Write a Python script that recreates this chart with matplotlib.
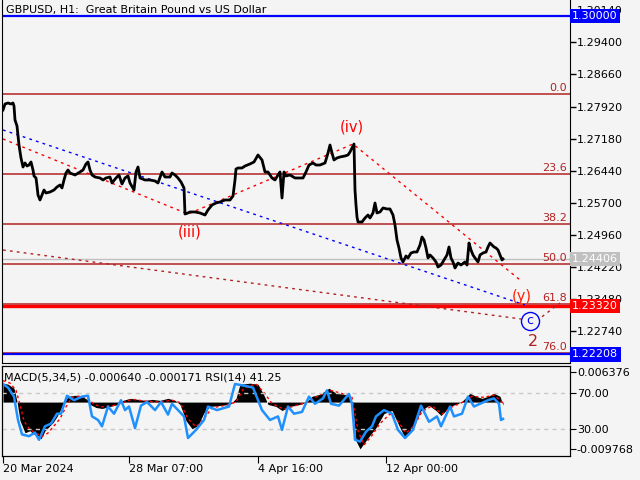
import numpy as np
import matplotlib.pyplot as plt
from matplotlib.transforms import blended_transform_factory

BG = '#f4f4f4'
FIB = '#b22222'

# price path (bar index, price)
bar = [3, 5, 8, 11, 13, 14, 15, 17, 19, 21, 23, 25, 27, 29, 31, 33, 34, 36, 37, 38,
       40, 42, 44, 46, 50, 54, 57, 60, 62, 64, 66, 68, 70, 75, 80, 83, 86, 88, 90, 92,
       95, 100, 103, 106, 110, 112, 116, 119, 122, 125, 128, 130, 134, 136, 138, 140,
       145, 150, 155, 158, 162, 165, 170, 172, 175, 178, 181, 184, 185, 188, 190, 195,
       200, 205, 208, 212, 216, 220, 225, 230, 233, 235, 236, 238, 242, 245, 250, 254,
       258, 262, 265, 268, 272, 275, 278, 280, 282, 284, 286, 290, 295, 300, 303, 306,
       309, 313, 316, 320, 325, 328, 330, 332, 334, 337, 340, 345, 348, 350, 352, 354,
       355, 356, 357, 358, 362, 365, 368, 370, 373, 375, 377, 380, 383, 387, 390, 393,
       395, 397, 399, 401, 403, 406, 408, 411, 414, 417, 420, 422, 424, 426, 428, 430,
       433, 436, 438, 441, 444, 447, 449, 451, 453, 455, 458, 461, 465, 467, 469, 471,
       473, 475, 478, 480, 483, 486, 488, 490, 492, 494, 496, 498, 500, 502, 503]
price = [1.27841, 1.27979, 1.28002, 1.27979, 1.28002, 1.27933, 1.27610, 1.27472, 1.27034,
         1.26735, 1.26527, 1.26620, 1.26550, 1.26573, 1.26643, 1.26458, 1.26320, 1.26274,
         1.26090, 1.25882, 1.25767, 1.25882, 1.25997, 1.25928, 1.25951, 1.25997, 1.26067,
         1.26113, 1.26044, 1.26228, 1.26389, 1.26458, 1.26389, 1.26343, 1.26412, 1.26458,
         1.26597, 1.26643, 1.26458, 1.26343, 1.26297, 1.26274, 1.26228, 1.26274, 1.26297,
         1.26159, 1.26274, 1.26343, 1.26136, 1.26274, 1.26320, 1.26159, 1.25997, 1.26412,
         1.26527, 1.26274, 1.26228, 1.26228, 1.26205, 1.26159, 1.26412, 1.26297, 1.26297,
         1.26389, 1.26343, 1.26274, 1.26182, 1.26044, 1.25444, 1.25468, 1.25491, 1.25491,
         1.25468, 1.25421, 1.25537, 1.25652, 1.25698, 1.25721, 1.25767, 1.25767, 1.25859,
         1.26228, 1.26481, 1.26504, 1.26504, 1.26550, 1.26597, 1.26643, 1.26804, 1.26689,
         1.26412, 1.26412, 1.26274, 1.26228, 1.26343, 1.26412, 1.25813, 1.26412, 1.26320,
         1.26343, 1.26274, 1.26274, 1.26274, 1.26412, 1.26573, 1.26620, 1.26573, 1.26573,
         1.26620, 1.26850, 1.27034, 1.26850, 1.26689, 1.26735, 1.26758, 1.26781, 1.26804,
         1.26873, 1.26965, 1.27057, 1.25997, 1.25652, 1.25375, 1.25260, 1.25260, 1.25352,
         1.25421, 1.25352, 1.25468, 1.25698, 1.25468, 1.25491, 1.25583, 1.25560, 1.25560,
         1.25421, 1.25191, 1.24845, 1.24661, 1.24431, 1.24339, 1.24477, 1.24431, 1.24546,
         1.24569, 1.24569, 1.24730, 1.24915, 1.24845, 1.24661, 1.24431, 1.24500, 1.24431,
         1.24339, 1.24223, 1.24269, 1.24385, 1.24500, 1.24684, 1.24431, 1.24339, 1.24200,
         1.24315, 1.24269, 1.24339, 1.24269, 1.24776, 1.24615, 1.24500, 1.24431, 1.24339,
         1.24500, 1.24546, 1.24569, 1.24684, 1.24776, 1.24730, 1.24684, 1.24661, 1.24615,
         1.24500, 1.24385, 1.24406]

macd_bar = [3, 8, 14, 17, 20, 25, 30, 33, 37, 41, 45, 49, 53, 57, 61, 65, 68, 75, 82, 87,
            90, 96, 102, 110, 118, 123, 130, 138, 145, 152, 160, 168, 175, 180, 186, 192,
            198, 204, 210, 220, 230, 236, 240, 250, 258, 264, 268, 276, 282, 290, 300, 306,
            312, 320, 329, 336, 344, 350, 353, 356, 360, 368, 376, 384, 392, 399, 405, 413,
            421, 429, 436, 441, 450, 458, 462, 470, 476, 482, 488, 494, 500, 503]
macd = [0.00397, 0.00376, 0.00291, 0.00015, -0.00389, -0.00644, -0.00601, -0.00665,
        -0.00686, -0.00771, -0.00601, -0.00516, -0.00431, -0.00304, -0.00134, 0.00015,
        0.00121, 0.00142, 0.00121, 0.00057, -0.00049, -0.00113, -0.00134, -0.00091,
        -0.00049, 0.00036, 0.00079, 0.00057, 0.00036, 0.00057, 0.00036, 0.00079, 0.00036,
        -0.00049, -0.00389, -0.00559, -0.00495, -0.00219, -0.00091, -0.00070, -0.00049,
        0.00079, 0.00376, 0.00397, 0.00376, 0.00142, -0.00049, -0.00091, -0.00176,
        -0.00091, -0.00049, -0.00006, 0.00121, 0.00164, 0.00291, 0.00185, 0.00164,
        0.00121, -0.00176, -0.00813, -0.00983, -0.00750, -0.00537, -0.00240, -0.00176,
        -0.00495, -0.00750, -0.00537, -0.00176, -0.00070, -0.00176, -0.00282, -0.00091,
        -0.00028, 0.00015, 0.00185, 0.00121, 0.00079, 0.00121, 0.00185, 0.00121, -0.00064]

sig_bar = [3, 10, 16, 20, 24, 30, 36, 42, 48, 54, 60, 66, 72, 80, 88, 94, 102, 112, 122,
           132, 145, 160, 172, 180, 188, 196, 204, 212, 225, 236, 244, 256, 264, 272, 284,
           296, 308, 318, 330, 342, 352, 358, 364, 372, 380, 390, 398, 406, 414, 422, 432,
           442, 452, 462, 472, 484, 494, 503]
signal = [0.0045, 0.0040, 0.0025, -0.0005, -0.0040, -0.0058, -0.0065, -0.0072, -0.0065,
          -0.0050, -0.0035, -0.0010, 0.0010, 0.0013, 0.0008, -0.0005, -0.0010, -0.0008,
          -0.0002, 0.0006, 0.0002, 0.0000, 0.0004, -0.0001, -0.0035, -0.0052, -0.0035,
          -0.0012, -0.0007, 0.0000, 0.0030, 0.0038, 0.0020, -0.0003, -0.0015, -0.0007,
          0.0000, 0.0013, 0.0025, 0.0018, 0.0010, -0.0060, -0.0090, -0.0070, -0.0045,
          -0.0025, -0.0040, -0.0065, -0.0050, -0.0020, -0.0008, -0.0025, -0.0010, -0.0001,
          0.0012, 0.0010, 0.0015, -0.000171]

rsi_bar = [3, 8, 14, 18, 22, 29, 35, 39, 45, 51, 57, 61, 67, 74, 82, 88, 92, 98, 102, 108,
           114, 121, 125, 129, 135, 141, 147, 155, 161, 168, 172, 178, 184, 188, 196, 204,
           208, 217, 229, 235, 245, 253, 262, 270, 278, 282, 288, 294, 302, 309, 315, 323,
           327, 331, 339, 349, 352, 355, 360, 366, 372, 376, 384, 392, 398, 405, 413, 421,
           429, 437, 441, 450, 454, 462, 468, 474, 480, 488, 494, 499, 501, 503]
rsi = [80, 76, 66, 40, 24, 22, 26, 18, 33, 36, 47, 47, 67, 62, 66, 67, 44, 40, 33, 55,
       47, 62, 51, 55, 31, 56, 60, 51, 60, 46, 58, 51, 44, 20, 29, 40, 55, 51, 55, 80,
       78, 76, 51, 40, 44, 29, 55, 47, 49, 66, 58, 64, 73, 58, 56, 69, 58, 18, 16, 27,
       33, 44, 51, 47, 29, 20, 29, 56, 38, 44, 33, 55, 44, 47, 66, 55, 58, 62, 64, 58,
       40, 41.25]

price_ticks = [1.30140, 1.29400, 1.28660, 1.27920, 1.27180, 1.26440, 1.25700,
               1.24960, 1.24220, 1.23480, 1.22740]
fib_labels = ['0.0', '23.6', '38.2', '50.0', '61.8', '76.0']
fib_prices = [1.28210, 1.26364, 1.25216, 1.24294, 1.23370, 1.22240]

date_pos = [3, 129, 258, 386]
date_labels = ['20 Mar 2024', '28 Mar 07:00', '4 Apr 16:00', '12 Apr 00:00']

fig = plt.figure(figsize=(6.4, 4.8), dpi=100, facecolor=BG)
ax = fig.add_axes([2/640, 1-363/480, 568/640, 363/480], facecolor=BG)
ax.set_xlim(2, 570)
ax.set_ylim(1.22011, 1.30375)

# horizontal levels
ax.axhline(1.30000, color='#0000ff', lw=1.6)
for lab, p in zip(fib_labels, fib_prices):
    ax.axhline(p, color=FIB, lw=1.1)
    ax.text(567, p + 0.0003, lab, color=FIB, fontsize=8, ha='right', va='bottom')
ax.axhline(1.24406, color='#c0c0c0', lw=1)
ax.axhline(1.23320, color='#ff0000', lw=2.4)
ax.axhline(1.22208, color='#0000ff', lw=1.6)

# trend lines
ax.plot([3, 525], [1.27380, 1.23348], color='#0000ff', lw=1, ls=(0, (2, 3)))
ax.plot([3, 188, 353, 520], [1.27173, 1.25444, 1.27057, 1.23924],
        color='#ff0000', lw=1, ls=(0, (2, 3)))
ax.plot([3, 521], [1.24615, 1.23025], color=FIB, lw=1, ls=(0, (2, 3)))
ax.plot([542, 560], [1.23078, 1.23394], color=FIB, lw=1, ls=(0, (2, 3)))

ax.plot(bar, price, color='black', lw=2)

# wave labels
ax.text(190, 1.25030, '(iii)', color='#ff0000', fontsize=10.5, ha='center', va='center')
ax.text(352, 1.27449, '(iv)', color='#ff0000', fontsize=10.5, ha='center', va='center')
ax.text(522, 1.23532, '(y)', color='#ff2000', fontsize=10.5, ha='center', va='center')
ax.plot(530, 1.22979, marker='o', ms=13, mfc='none', mec='#0000ff', mew=1)
ax.text(530, 1.22979, 'c', color='#0000ff', fontsize=9, ha='center', va='center')
ax.text(533, 1.22495, '2', color=FIB, fontsize=11.5, ha='center', va='center')

ax.yaxis.tick_right()
ax.set_yticks(price_ticks)
ax.set_yticklabels(['%.5f' % t for t in price_ticks])
ax.tick_params(axis='y', direction='out', length=4, pad=1, labelsize=8, width=1)
ax.set_xticks([])
ax.spines['top'].set_visible(False)

tr = blended_transform_factory(ax.transAxes, ax.transData)
for p, c in [(1.30000, '#0000ff'), (1.24406, '#c0c0c0'),
             (1.23320, '#ff0000'), (1.22208, '#0000ff')]:
    ax.text(1.004, p, '%.5f' % p, transform=tr, color='white', fontsize=8, va='center',
            ha='left', zorder=10, clip_on=False,
            bbox=dict(boxstyle='square,pad=0.2', fc=c, ec='none'))

fig.text(6/640, 1-10/480, 'GBPUSD, H1:  Great Britain Pound vs US Dollar',
         fontsize=8, ha='left', va='center')

# indicator window: MACD histogram + signal, RSI on top
ax2 = fig.add_axes([2/640, 1-456/480, 568/640, 90/480], facecolor=BG)
ax2.set_xlim(2, 570)
ax2.set_ylim(-0.01132, 0.00758)
ax2.fill_between(macd_bar, 0, macd, color='black', lw=0)
ax2.plot(sig_bar, signal, color='#ff0000', lw=1, ls=(0, (2, 2)))
ax2.set_xticks(date_pos)
ax2.set_xticklabels(date_labels, ha='left')
ax2.tick_params(axis='x', direction='out', length=5, pad=1, labelsize=8)

ax3 = ax2.twinx()
ax3.set_ylim(0, 100)
ax3.axhline(70, color='#c8c8c8', lw=1, ls=(0, (3, 3)))
ax3.axhline(30, color='#c8c8c8', lw=1, ls=(0, (3, 3)))
ax3.plot(rsi_bar, rsi, color='#1e90ff', lw=1.8)
ax3.set_yticks([70, 30])
ax3.set_yticklabels(['70.00', '30.00'])
ax3.tick_params(axis='y', direction='out', length=4, pad=1, labelsize=8)

ax2.yaxis.tick_right()
ax2.set_yticks([0.006376, -0.009768])
ax2.set_yticklabels(['0.006376', '-0.009768'])
ax2.tick_params(axis='y', direction='out', length=4, pad=1, labelsize=8)

fig.text(4/640, 1-377/480, 'MACD(5,34,5) -0.000640 -0.000171 RSI(14) 41.25',
         fontsize=8, ha='left', va='center')

fig.savefig('out.png', dpi=100, facecolor=BG)
